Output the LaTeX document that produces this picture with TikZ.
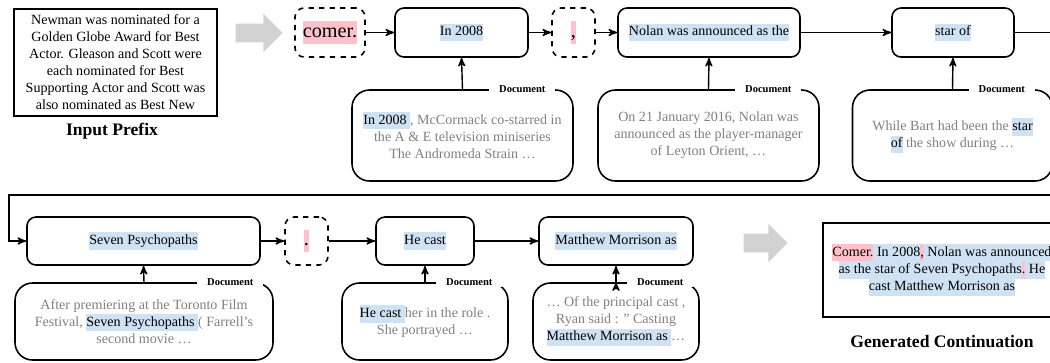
\documentclass[tikz,border=0pt]{standalone}
\usepackage{fontspec}
\setmainfont{Liberation Serif}
\usetikzlibrary{positioning, arrows, shapes.arrows}
\definecolor{hlblue}{HTML}{CFE2F3}
\definecolor{hlpink}{HTML}{FFC0CB}
% highlighted spans (retrieved / newly generated)
\newcommand{\hlb}[1]{{\setlength{\fboxsep}{0pt}\colorbox{hlblue}{\strut\color{black}#1}}}
\newcommand{\hlp}[1]{{\setlength{\fboxsep}{0pt}\colorbox{hlpink}{\strut\color{black}#1}}}
\newcommand{\smallfont}{\fontsize{8}{9.7}\selectfont}
\tikzset{
->, % every connector is directed
>=stealth', % small filled heads
token/.style={draw, rounded corners=0.18cm, line width=0.9pt, minimum height=0.98cm, font=\smallfont}, % copied span
newtok/.style={token, dashed, font=\fontsize{11.5}{13}\selectfont}, % generated token
docbox/.style={draw, rounded corners=0.35cm, line width=0.9pt, align=center, text=black!50, font=\smallfont},
doclabel/.style={fill=white, inner xsep=0.2cm, inner ysep=1pt, anchor=east, font=\bfseries\fontsize{6}{7}\selectfont},
textbox/.style={draw, line width=0.9pt, align=center, font=\smallfont},
caption/.style={font=\bfseries\fontsize{10}{12}\selectfont},
bigarrow/.style={single arrow, fill=gray!35, draw=none, inner sep=0.18cm, single arrow head extend=0.2cm, minimum width=0.76cm},
}
\begin{document}
\begin{tikzpicture}
    \useasboundingbox (0,0) rectangle (21,-7.24);

    % input prefix
    \node[textbox, minimum width=4.06cm, minimum height=2.1cm] (prefix) at (2.31,-1.25)
        {Newman was nominated for a\\ Golden Globe Award for Best\\ Actor. Gleason and Scott were\\ each nominated for Best\\ Supporting Actor and Scott was\\ also nominated as Best New};
    \node[caption] (prefixcap) at (2.24,-2.62) {Input Prefix};
    \node[bigarrow, minimum height=0.94cm] (go1) at (5.09,-0.66) {};

    % first row
    \node[newtok, minimum width=1.4cm] (comer) at (6.6,-0.65) {\hlp{comer.}};
    \node[token, minimum width=2.66cm] (in2008) at (9.23,-0.65) {\hlb{In 2008}};
    \node[newtok, minimum width=0.86cm] (comma) at (11.47,-0.65) {\hlp{,}};
    \node[token, minimum width=3.64cm] (nolan) at (14.18,-0.65) {\hlb{Nolan was announced as the}};
    \node[token, minimum width=2.44cm] (starof) at (19.06,-0.65) {\hlb{star of}};

    \node[docbox, minimum width=4.42cm, minimum height=1.82cm] (doc1) at (9.25,-2.71)
        {\hlb{In 2008\ }, McCormack co-starred in\\ the A \& E television miniseries\\ The Andromeda Strain …};
    \node[docbox, minimum width=4.42cm, minimum height=1.82cm] (doc2) at (14.17,-2.71)
        {On 21 January 2016, Nolan was\\ announced as the player-manager\\ of Leyton Orient, …};
    \node[docbox, minimum width=4.0cm, minimum height=1.82cm] (doc3) at (19.05,-2.71)
        {While Bart had been the \hlb{star}\\ \hlb{of} the show during …};
    \node[doclabel] (lab1) at ([xshift=-0.36cm]doc1.north east) {Document};
    \node[doclabel] (lab2) at ([xshift=-0.36cm]doc2.north east) {Document};
    \node[doclabel] (lab3) at ([xshift=-0.36cm]doc3.north east) {Document};

    % second row
    \node[token, minimum width=4.66cm, minimum height=0.96cm] (seven) at (2.87,-4.82) {\hlb{Seven Psychopaths}};
    \node[newtok, minimum width=0.86cm, minimum height=0.96cm] (dot) at (6.13,-4.82) {\hlp{.}};
    \node[token, minimum width=1.96cm, minimum height=0.96cm] (hecast) at (8.5,-4.82) {\hlb{He cast}};
    \node[token, minimum width=3.08cm, minimum height=0.96cm] (matthew) at (12.32,-4.82) {\hlb{Matthew Morrison as}};

    \node[docbox, minimum width=5.16cm, minimum height=1.54cm] (doc4) at (2.88,-6.43)
        {After premiering at the Toronto Film\\ Festival, \hlb{Seven Psychopaths\ }( Farrell’s\\ second movie …};
    \node[docbox, minimum width=3.32cm, minimum height=1.54cm] (doc5) at (8.5,-6.43)
        {\hlb{He cast\ }her in the role .\\ She portrayed …};
    \node[docbox, minimum width=3.32cm, minimum height=1.54cm] (doc6) at (12.32,-6.43)
        {… Of the principal cast ,\\ Ryan said : " Casting\\ \hlb{Matthew Morrison as\ }…};
    \node[doclabel] (lab4) at ([xshift=-0.2cm]doc4.north east) {Document};
    \node[doclabel] (lab5) at ([xshift=-0.12cm]doc5.north east) {Document};
    \node[doclabel] (lab6) at ([xshift=-0.12cm]doc6.north east) {Document};

    % output
    \node[bigarrow, minimum height=0.88cm] (go2) at (15.22,-4.86) {};
    \node[textbox, minimum width=4.76cm, minimum height=1.88cm] (output) at (18.84,-5.4)
        {\hlp{Comer.}\hlb{\ In 2008}\hlp{,}\hlb{\ Nolan was announced}\\ \hlb{as the star of Seven Psychopaths}\hlp{.}\hlb{\ He}\\ \hlb{cast Matthew Morrison as}};
    \node[caption] (outputcap) at (18.84,-6.84) {Generated Continuation};

    \coordinate (wrapR) at (21.4,-3.9);
    \coordinate (wrapL) at (0.18,-3.9);

    \draw[line width=0.8pt]
        (comer) edge (in2008)
        (in2008) edge (comma)
        (comma) edge (nolan)
        (nolan) edge (starof)
        (seven) edge (dot)
        (dot) edge (hecast)
        (hecast) edge (matthew)
        (doc1.north) edge (in2008.south)
        (doc2.north) edge (nolan.south)
        (doc3.north) edge (starof.south)
        (doc4.north) edge (seven.south)
        (doc5.north) edge (hecast.south)
        (doc6.north) edge (matthew.south)
        ;
    \draw[line width=0.8pt] (starof.east) -| (wrapR) -- (wrapL) |- (seven.west);
\end{tikzpicture}
\end{document}
